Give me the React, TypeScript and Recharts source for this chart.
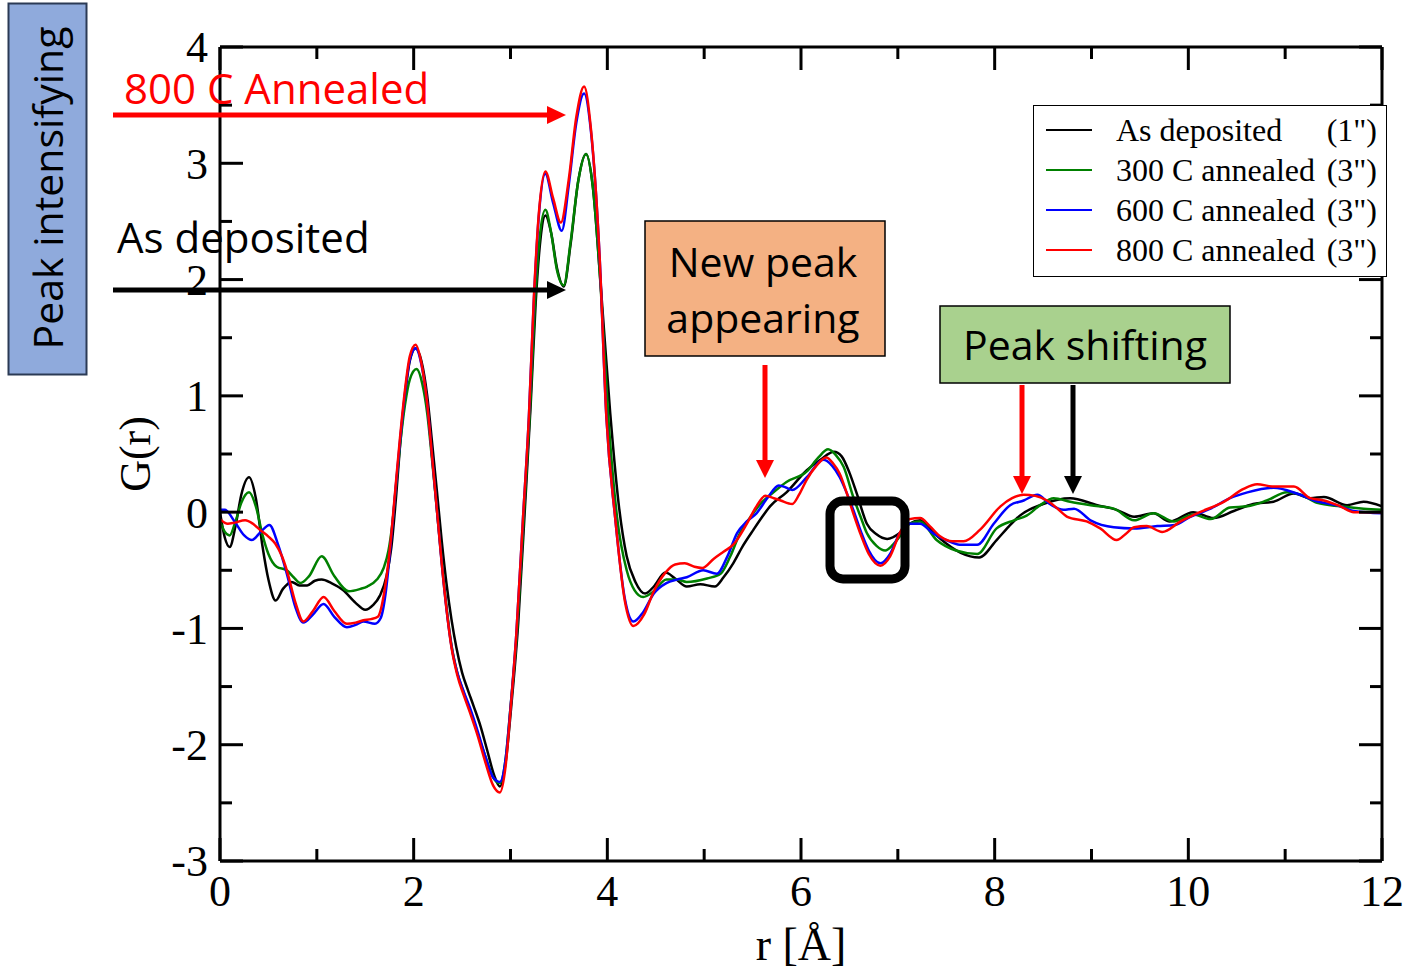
import React from 'react';
import { LineChart, Line, XAxis, YAxis, Legend, Label } from 'recharts';

// G(r) values, as [r (Å), G(r)] pairs
const asDeposited: number[][] = [
  [0, 0.0], [0.05, -0.22], [0.1, -0.3], [0.16, -0.12], [0.22, 0.15], [0.3, 0.3], [0.37, 0.12], [0.44, -0.3],
  [0.5, -0.58], [0.575, -0.76], [0.65, -0.66], [0.74, -0.6], [0.82, -0.63], [0.9, -0.63], [0.98, -0.59],
  [1.05, -0.58], [1.15, -0.61], [1.27, -0.67], [1.4, -0.78], [1.5, -0.84], [1.58, -0.8], [1.65, -0.72],
  [1.72, -0.55], [1.77, -0.3], [1.82, 0.15], [1.86, 0.58], [1.91, 1.0], [1.96, 1.3], [2.02, 1.41],
  [2.08, 1.3], [2.14, 1.0], [2.19, 0.6], [2.24, 0.18], [2.29, -0.25], [2.34, -0.62], [2.39, -0.92],
  [2.44, -1.16], [2.5, -1.38], [2.56, -1.53], [2.62, -1.67], [2.69, -1.84], [2.76, -2.05], [2.83, -2.26],
  [2.89, -2.36], [2.95, -2.15], [3.01, -1.65], [3.08, -0.95], [3.15, 0.05], [3.21, 0.95], [3.26, 1.8],
  [3.31, 2.35], [3.36, 2.55], [3.42, 2.4], [3.48, 2.1], [3.55, 1.94], [3.62, 2.3], [3.7, 2.85], [3.78, 3.08],
  [3.85, 2.8], [3.93, 1.97], [4.03, 0.85], [4.12, 0.05], [4.2, -0.38], [4.29, -0.6], [4.39, -0.7],
  [4.48, -0.64], [4.6, -0.52], [4.7, -0.57], [4.82, -0.64], [4.96, -0.62], [5.11, -0.64], [5.2, -0.56],
  [5.3, -0.44], [5.4, -0.29], [5.51, -0.15], [5.6, -0.04], [5.68, 0.05], [5.85, 0.17], [6.06, 0.36],
  [6.2, 0.45], [6.34, 0.52], [6.42, 0.48], [6.5, 0.34], [6.58, 0.15], [6.68, -0.1], [6.78, -0.19],
  [6.89, -0.23], [7.02, -0.18], [7.12, -0.1], [7.23, -0.07], [7.36, -0.17], [7.5, -0.27], [7.65, -0.35],
  [7.84, -0.39], [8.02, -0.24], [8.15, -0.12], [8.26, -0.03], [8.5, 0.07], [8.78, 0.12], [9.06, 0.06],
  [9.26, 0.02], [9.44, -0.04], [9.64, -0.01], [9.81, -0.08], [10.05, 0.0], [10.26, -0.05], [10.47, 0.01],
  [10.67, 0.07], [10.88, 0.09], [11.09, 0.16], [11.26, 0.12], [11.4, 0.13], [11.64, 0.06], [11.81, 0.09],
  [12.0, 0.05],
];

const annealed300: number[][] = [
  [0, -0.08], [0.05, -0.17], [0.1, -0.2], [0.16, -0.08], [0.22, 0.08], [0.3, 0.17], [0.37, 0.05],
  [0.44, -0.2], [0.5, -0.36], [0.585, -0.47], [0.69, -0.5], [0.76, -0.56], [0.83, -0.61], [0.92, -0.55],
  [1.05, -0.38], [1.18, -0.55], [1.33, -0.68], [1.45, -0.66], [1.52, -0.64], [1.62, -0.58], [1.69, -0.48],
  [1.74, -0.33], [1.78, -0.1], [1.82, 0.24], [1.86, 0.58], [1.91, 0.92], [1.96, 1.14], [2.03, 1.23],
  [2.09, 1.1], [2.14, 0.85], [2.19, 0.45], [2.24, 0.02], [2.29, -0.42], [2.34, -0.82], [2.39, -1.14],
  [2.45, -1.38], [2.52, -1.56], [2.58, -1.7], [2.66, -1.9], [2.74, -2.1], [2.82, -2.28], [2.89, -2.33],
  [2.95, -2.12], [3.0, -1.68], [3.07, -1.0], [3.14, 0.0], [3.2, 0.85], [3.25, 1.75], [3.3, 2.35],
  [3.36, 2.6], [3.42, 2.4], [3.48, 2.08], [3.55, 1.95], [3.62, 2.32], [3.7, 2.85], [3.78, 3.08],
  [3.85, 2.8], [3.93, 1.95], [4.01, 0.82], [4.1, -0.04], [4.2, -0.5], [4.28, -0.67], [4.37, -0.73],
  [4.48, -0.68], [4.61, -0.58], [4.72, -0.58], [4.82, -0.6], [5.03, -0.57], [5.17, -0.53], [5.27, -0.38],
  [5.37, -0.18], [5.48, -0.04], [5.58, 0.07], [5.7, 0.16], [5.85, 0.26], [6.06, 0.35], [6.18, 0.47],
  [6.28, 0.54], [6.36, 0.49], [6.44, 0.39], [6.54, 0.13], [6.62, -0.05], [6.68, -0.18], [6.78, -0.29],
  [6.87, -0.33], [6.95, -0.28], [7.02, -0.21], [7.12, -0.1], [7.23, -0.08], [7.4, -0.24], [7.6, -0.33],
  [7.82, -0.36], [8.02, -0.14], [8.2, -0.07], [8.33, -0.03], [8.47, 0.06], [8.61, 0.12], [8.78, 0.09],
  [8.99, 0.06], [9.23, 0.03], [9.44, -0.07], [9.64, -0.01], [9.85, -0.08], [10.05, -0.02], [10.23, -0.06],
  [10.43, 0.04], [10.61, 0.05], [10.81, 0.1], [11.02, 0.17], [11.16, 0.15], [11.33, 0.08], [11.57, 0.05],
  [11.81, 0.03], [12.0, 0.02],
];

const annealed600: number[][] = [
  [0, 0.02], [0.05, 0.02], [0.15, -0.08], [0.25, -0.2], [0.33, -0.24], [0.42, -0.17], [0.51, -0.11],
  [0.6, -0.28], [0.69, -0.53], [0.78, -0.82], [0.86, -0.95], [0.96, -0.88], [1.07, -0.79], [1.18, -0.9],
  [1.31, -0.99], [1.4, -0.97], [1.48, -0.94], [1.6, -0.96], [1.66, -0.91], [1.71, -0.7], [1.76, -0.3],
  [1.81, 0.17], [1.86, 0.62], [1.91, 1.02], [1.96, 1.31], [2.02, 1.41], [2.08, 1.27], [2.14, 0.93],
  [2.19, 0.48], [2.24, 0.02], [2.29, -0.44], [2.34, -0.84], [2.39, -1.15], [2.45, -1.38], [2.52, -1.55],
  [2.58, -1.68], [2.66, -1.88], [2.74, -2.1], [2.82, -2.28], [2.89, -2.32], [2.95, -2.12], [3.0, -1.68],
  [3.06, -1.05], [3.13, -0.04], [3.19, 0.82], [3.24, 1.8], [3.29, 2.52], [3.36, 2.91], [3.44, 2.66],
  [3.53, 2.42], [3.6, 2.8], [3.68, 3.35], [3.76, 3.6], [3.83, 3.28], [3.92, 2.2], [3.99, 0.82],
  [4.08, -0.04], [4.18, -0.74], [4.27, -0.94], [4.37, -0.86], [4.48, -0.7], [4.61, -0.61], [4.72, -0.58],
  [4.82, -0.56], [4.99, -0.5], [5.13, -0.53], [5.24, -0.38], [5.34, -0.18], [5.44, -0.08], [5.54, -0.01],
  [5.66, 0.13], [5.77, 0.23], [5.85, 0.21], [5.91, 0.19], [6.06, 0.3], [6.23, 0.45], [6.32, 0.4],
  [6.4, 0.3], [6.47, 0.17], [6.54, 0.02], [6.62, -0.17], [6.7, -0.33], [6.82, -0.44], [6.92, -0.36],
  [7.02, -0.18], [7.12, -0.1], [7.23, -0.1], [7.36, -0.18], [7.5, -0.24], [7.64, -0.28], [7.82, -0.28],
  [7.99, -0.1], [8.16, 0.06], [8.3, 0.1], [8.44, 0.15], [8.57, 0.07], [8.71, 0.02], [8.82, 0.03],
  [8.99, -0.07], [9.23, -0.13], [9.44, -0.14], [9.68, -0.12], [9.86, -0.11], [10.02, -0.04], [10.23, 0.03],
  [10.43, 0.12], [10.61, 0.17], [10.88, 0.21], [11.12, 0.16], [11.3, 0.1], [11.57, 0.05], [11.71, 0.01],
  [12.0, -0.01],
];

const annealed800: number[][] = [
  [0, -0.06], [0.08, -0.1], [0.15, -0.09], [0.26, -0.07], [0.34, -0.1], [0.41, -0.15], [0.5, -0.21],
  [0.57, -0.27], [0.64, -0.38], [0.69, -0.5], [0.78, -0.78], [0.86, -0.94], [0.96, -0.85], [1.07, -0.73],
  [1.18, -0.85], [1.31, -0.96], [1.4, -0.95], [1.48, -0.93], [1.56, -0.92], [1.63, -0.9], [1.7, -0.67],
  [1.76, -0.27], [1.81, 0.19], [1.86, 0.65], [1.91, 1.05], [1.96, 1.34], [2.02, 1.44], [2.08, 1.28],
  [2.14, 0.93], [2.19, 0.48], [2.24, 0.02], [2.29, -0.44], [2.34, -0.84], [2.39, -1.16], [2.45, -1.4],
  [2.52, -1.58], [2.58, -1.72], [2.66, -1.92], [2.74, -2.15], [2.82, -2.35], [2.89, -2.41], [2.95, -2.18],
  [3.0, -1.7], [3.06, -1.05], [3.13, -0.04], [3.19, 0.82], [3.24, 1.82], [3.29, 2.54], [3.36, 2.93],
  [3.44, 2.7], [3.52, 2.49], [3.6, 2.85], [3.68, 3.4], [3.76, 3.66], [3.83, 3.3], [3.92, 2.2],
  [3.99, 0.82], [4.08, -0.04], [4.18, -0.76], [4.27, -0.98], [4.38, -0.88], [4.48, -0.68], [4.6, -0.52],
  [4.7, -0.45], [4.8, -0.44], [4.9, -0.47], [4.98, -0.48], [5.1, -0.4], [5.2, -0.34], [5.3, -0.28],
  [5.44, -0.1], [5.54, 0.05], [5.63, 0.14], [5.72, 0.12], [5.79, 0.1], [5.91, 0.07], [5.98, 0.15],
  [6.06, 0.28], [6.16, 0.4], [6.26, 0.47], [6.33, 0.42], [6.4, 0.33], [6.47, 0.17], [6.54, -0.01],
  [6.62, -0.2], [6.7, -0.36], [6.82, -0.46], [6.92, -0.38], [7.02, -0.18], [7.12, -0.06], [7.23, -0.05],
  [7.33, -0.12], [7.44, -0.21], [7.56, -0.25], [7.68, -0.25], [7.85, -0.15], [8.06, 0.05], [8.18, 0.12],
  [8.3, 0.15], [8.42, 0.14], [8.54, 0.1], [8.65, 0.03], [8.75, -0.04], [8.95, -0.08], [9.09, -0.14],
  [9.26, -0.24], [9.35, -0.19], [9.44, -0.13], [9.57, -0.12], [9.73, -0.17], [9.92, -0.08], [10.12, 0.0],
  [10.37, 0.09], [10.57, 0.2], [10.71, 0.24], [10.88, 0.22], [11.09, 0.22], [11.26, 0.12], [11.4, 0.1],
  [11.57, 0.05], [11.71, 0.0], [12.0, 0.0],
];

const seriesLabels = ['As deposited', '300 C annealed', '600 C annealed', '800 C annealed'];
const seriesSuffix = ['(1")', '(3")', '(3")', '(3")'];
const seriesColors = ['#000000', '#008000', '#0000ff', '#ff0000'];
const seriesData = [asDeposited, annealed300, annealed600, annealed800];

const xTicks = [0, 1, 2, 3, 4, 5, 6, 7, 8, 9, 10, 11, 12];
const yTicks = [-3, -2.5, -2, -1.5, -1, -0.5, 0, 0.5, 1, 1.5, 2, 2.5, 3, 3.5, 4];

const SERIF = '"Liberation Serif", "Times New Roman", serif';
const SANS = '"Open Sans", "Noto Sans", sans-serif';
const MAJOR = 23;
const MINOR = 12;

const BottomTick = (props: any) => {
  const { x, y, payload } = props;
  const v = payload.value;
  const major = v % 2 === 0;
  return (
    <g>
      <line x1={x} x2={x} y1={y} y2={y - (major ? MAJOR : MINOR)} stroke="#000" strokeWidth={3} />
      {major && (
        <text x={x} y={y + 45} textAnchor="middle" fontFamily={SERIF} fontSize={44} fill="#000">
          {v}
        </text>
      )}
    </g>
  );
};

const TopTick = (props: any) => {
  const { x, y, payload } = props;
  const major = payload.value % 2 === 0;
  return <line x1={x} x2={x} y1={y} y2={y + (major ? MAJOR : MINOR)} stroke="#000" strokeWidth={3} />;
};

const LeftTick = (props: any) => {
  const { x, y, payload } = props;
  const v = payload.value;
  const major = Number.isInteger(v);
  return (
    <g>
      <line x1={x} x2={x + (major ? MAJOR : MINOR)} y1={y} y2={y} stroke="#000" strokeWidth={3} />
      {major && (
        <text x={x - 12} y={y} dy="0.35em" textAnchor="end" fontFamily={SERIF} fontSize={44} fill="#000">
          {v}
        </text>
      )}
    </g>
  );
};

const RightTick = (props: any) => {
  const { x, y, payload } = props;
  const major = Number.isInteger(payload.value);
  return <line x1={x} x2={x - (major ? MAJOR : MINOR)} y1={y} y2={y} stroke="#000" strokeWidth={3} />;
};

const LegendBox = () => (
  <div
    style={{
      position: 'relative',
      width: 354,
      height: 172,
      border: '1.5px solid #000',
      boxSizing: 'border-box',
      background: '#fff',
      fontFamily: SERIF,
      fontSize: 32,
      color: '#000',
    }}
  >
    {seriesLabels.map((label, i) => (
      <div key={label} style={{ position: 'absolute', left: 0, top: 4 + i * 40, width: '100%', height: 40 }}>
        <div style={{ position: 'absolute', left: 12, top: 19, width: 46, height: 2, background: seriesColors[i] }} />
        <span style={{ position: 'absolute', left: 82, top: 0, lineHeight: '40px', whiteSpace: 'nowrap' }}>{label}</span>
        <span style={{ position: 'absolute', right: 9, top: 0, lineHeight: '40px', whiteSpace: 'nowrap' }}>
          {seriesSuffix[i]}
        </span>
      </div>
    ))}
  </div>
);

const Annotations = () => (
  <svg width={1411} height={972} style={{ position: 'absolute', left: 0, top: 0, pointerEvents: 'none' }}>
    <rect x={8.5} y={3.5} width={78} height={371} fill="#8faadc" stroke="#2b3a55" strokeWidth={2} />
    <text transform="translate(63,188) rotate(-90)" textAnchor="middle" fontFamily={SANS} fontSize={41} fill="#000">
      Peak intensifying
    </text>

    <text x={124} y={104} fontFamily={SANS} fontSize={42} fill="#ff0000">800 C Annealed</text>
    <line x1={113} y1={115} x2={550} y2={115} stroke="#ff0000" strokeWidth={5} />
    <polygon points="547,106 566,115 547,124" fill="#ff0000" />

    <text x={117} y={253} fontFamily={SANS} fontSize={42} fill="#000">As deposited</text>
    <line x1={113} y1={290} x2={550} y2={290} stroke="#000" strokeWidth={5} />
    <polygon points="547,281 566,290 547,299" fill="#000" />

    <rect x={645} y={221} width={240} height={135} fill="#f4b183" stroke="#000" strokeWidth={1.5} />
    <text x={763} y={277} textAnchor="middle" fontFamily={SANS} fontSize={41} fill="#000">New peak</text>
    <text x={763} y={333} textAnchor="middle" fontFamily={SANS} fontSize={41} fill="#000">appearing</text>
    <line x1={765} y1={365} x2={765} y2={462} stroke="#ff0000" strokeWidth={5} />
    <polygon points="756,460 774,460 765,478" fill="#ff0000" />

    <rect x={940} y={306} width={290} height={77} fill="#a9d18e" stroke="#000" strokeWidth={1.5} />
    <text x={1085} y={360} textAnchor="middle" fontFamily={SANS} fontSize={41} fill="#000">Peak shifting</text>
    <line x1={1022} y1={385} x2={1022} y2={478} stroke="#ff0000" strokeWidth={5} />
    <polygon points="1013,476 1031,476 1022,494" fill="#ff0000" />
    <line x1={1073} y1={385} x2={1073} y2={478} stroke="#000" strokeWidth={5} />
    <polygon points="1064,476 1082,476 1073,494" fill="#000" />

    <rect x={830} y={501} width={75} height={78} rx={13} ry={13} fill="none" stroke="#000" strokeWidth={9} />
  </svg>
);

export default function App() {
  return (
    <div style={{ position: 'absolute', left: 0, top: 0, width: 1411, height: 972, background: '#fff', overflow: 'hidden' }}>
      <LineChart width={1411} height={972} margin={{ top: 46, right: 28, bottom: 51, left: 160 }}>
        <XAxis
          xAxisId="b"
          type="number"
          dataKey="r"
          domain={[0, 12]}
          ticks={xTicks}
          interval={0}
          allowDataOverflow
          height={60}
          tickSize={0}
          tickMargin={0}
          tickLine={false}
          axisLine={{ stroke: '#000', strokeWidth: 3 }}
          tick={<BottomTick />}
        >
          <Label
            content={(p: any) => {
              const vb = p.viewBox || { x: 220, y: 861, width: 1162, height: 60 };
              return (
                <text x={vb.x + vb.width / 2} y={vb.y + 99} textAnchor="middle" fontFamily={SERIF} fontSize={46} fill="#000">
                  r [Å]
                </text>
              );
            }}
          />
        </XAxis>
        <XAxis
          xAxisId="t"
          orientation="top"
          type="number"
          dataKey="r"
          domain={[0, 12]}
          ticks={xTicks}
          interval={0}
          allowDataOverflow
          height={1}
          tickSize={0}
          tickMargin={0}
          tickLine={false}
          axisLine={{ stroke: '#000', strokeWidth: 3 }}
          tick={<TopTick />}
        />
        <YAxis
          yAxisId="l"
          type="number"
          domain={[-3, 4]}
          ticks={yTicks}
          interval={0}
          allowDataOverflow
          width={60}
          tickSize={0}
          tickMargin={0}
          tickLine={false}
          axisLine={{ stroke: '#000', strokeWidth: 3 }}
          tick={<LeftTick />}
        >
          <Label
            content={(p: any) => {
              const vb = p.viewBox || { x: 160, y: 47, width: 60, height: 814 };
              const cx = vb.x - 25;
              const cy = vb.y + vb.height / 2;
              return (
                <text
                  transform={`translate(${cx},${cy}) rotate(-90)`}
                  textAnchor="middle"
                  dy="0.35em"
                  fontFamily={SERIF}
                  fontSize={44}
                  fill="#000"
                >
                  G(r)
                </text>
              );
            }}
          />
        </YAxis>
        <YAxis
          yAxisId="r"
          orientation="right"
          type="number"
          domain={[-3, 4]}
          ticks={yTicks}
          interval={0}
          allowDataOverflow
          width={1}
          tickSize={0}
          tickMargin={0}
          tickLine={false}
          axisLine={{ stroke: '#000', strokeWidth: 3 }}
          tick={<RightTick />}
        />
        <Legend
          layout="vertical"
          align="center"
          verticalAlign="middle"
          content={() => <LegendBox />}
          wrapperStyle={{ left: 1033, top: 105, width: 354, height: 172 }}
        />
        {seriesData.map((d, i) => (
          <Line
            key={seriesLabels[i]}
            xAxisId="b"
            yAxisId="l"
            name={seriesLabels[i]}
            data={d.map(([r, g]) => ({ r, g }))}
            dataKey="g"
            type="monotone"
            stroke={seriesColors[i]}
            strokeWidth={2.5}
            dot={false}
            activeDot={false}
            isAnimationActive={false}
          />
        ))}
      </LineChart>
      <Annotations />
    </div>
  );
}
